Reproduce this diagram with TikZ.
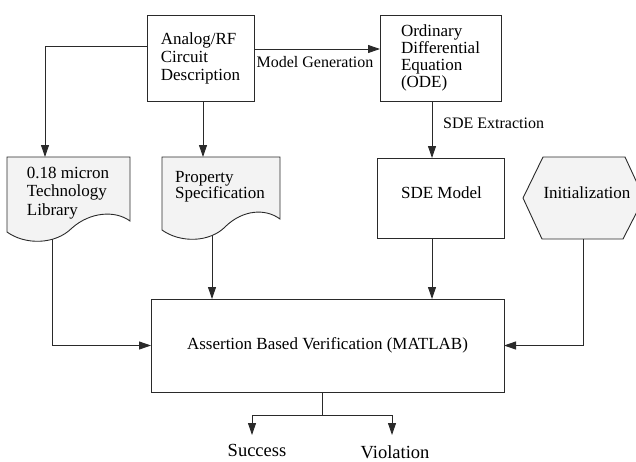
\documentclass[tikz,border=0pt]{standalone}
\usepackage{fontspec}
\setmainfont{Liberation Serif}
\usetikzlibrary{arrows.meta}
\definecolor{docgray}{HTML}{F3F3F3}
\definecolor{ln}{HTML}{2A2A2A}
\begin{document}
\begin{tikzpicture}[x=1pt,y=-1pt,
  boxnode/.style={draw=ln, line width=0.9pt, inner sep=0pt, outer sep=0pt, align=left, font=\fontsize{17}{18}\selectfont},
  txt/.style={inner sep=0pt, align=left, font=\fontsize{17}{18}\selectfont},
  lbl/.style={inner sep=0pt, font=\fontsize{16}{18}\selectfont},
  outlbl/.style={inner sep=0pt, font=\fontsize{18.5}{20}\selectfont},
  conn/.style={draw=ln, line width=0.9pt, -{Triangle[length=12pt,width=8pt]}},
  plain/.style={draw=ln, line width=0.9pt},
  docshape/.style={draw=ln, line width=0.9pt, fill=docgray}]
\useasboundingbox (0,0) rectangle (636,461);
\clip (0,0) rectangle (636,461);

% boxes
\node[boxnode, minimum width=107pt, minimum height=86pt] (analog) at (200.5,58) {Analog/RF\\Circuit\\Description};
\node[boxnode, minimum width=121pt, minimum height=86pt, font=\fontsize{17}{17}\selectfont] (ode) at (440.5,58) {Ordinary\\Differential\\Equation\\(ODE)};
\node[boxnode, minimum width=127pt, minimum height=80pt] (sde) at (440.5,198) {};
\node[txt] (sdet) at (441.5,193) {SDE Model};
\node[boxnode, minimum width=353pt, minimum height=93pt] (assert) at (327.5,345.5) {Assertion Based Verification (MATLAB)};

% documents
\draw[docshape] (7,157) -- (130,157) -- (130,221) .. controls (115,210) and (90,212) .. (72,228) .. controls (55,245) and (25,245) .. (7,232) -- cycle;
\node[txt, font=\fontsize{17}{18.5}\selectfont] (lib) at (68,193) {0.18 micron\\Technology\\Library};
\coordinate (libtop) at (45,157);
\coordinate (libbot) at (52,239);

\draw[docshape] (162,157) -- (280,157) -- (280,219) .. controls (265,208) and (243,210) .. (226,226) .. controls (210,243) and (180,243) .. (162,230) -- cycle;
\node[txt, font=\fontsize{17}{16}\selectfont] (prop) at (220,187) {Property\\Specification};
\coordinate (proptop) at (203,157);
\coordinate (propbot) at (212,235);

% initialization hexagon
\draw[docshape] (523,198) -- (543,157) -- (625,157) -- (644,198) -- (623,239) -- (542,239) -- cycle;
\node[txt] (init) at (587,193) {Initialization};
\coordinate (initbot) at (583,239);

% connectors
\draw[conn] ([yshift=12pt]analog.west) -| (libtop);
\draw[conn] (analog.south -| proptop) -- (proptop);
\draw[conn] ([yshift=9pt]analog.east) -- ([yshift=9pt]ode.west);
\node[lbl] (mg) at (315,62) {Model Generation};
\draw[conn] ([xshift=-8.5pt]ode.south) -- ([xshift=-8.5pt]sde.north);
\node[lbl, anchor=west] (sdex) at (443,123) {SDE Extraction};
\draw[conn] (libbot) |- (assert.west);
\draw[conn] (propbot) -- (propbot |- assert.north);
\draw[conn] ([xshift=-8.5pt]sde.south) -- ([xshift=-8.5pt]sde.south |- assert.north);
\draw[conn] (initbot) |- (assert.east);

% outcomes
\coordinate (split) at (322,415);
\draw[plain] (split |- assert.south) -- (split);
\node[outlbl] (succ) at (257,450) {Success};
\node[outlbl] (viol) at (395,452) {Violation};
\coordinate (sarr) at (252,435);
\coordinate (varr) at (392,435);
\draw[conn] (split) -| (sarr);
\draw[conn] (split) -| (varr);
\end{tikzpicture}
\end{document}
